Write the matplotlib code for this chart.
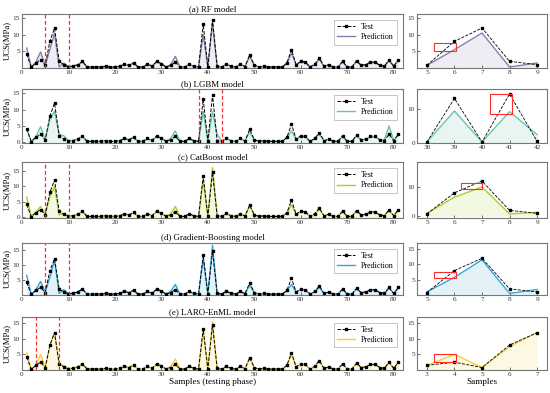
import matplotlib
matplotlib.use("Agg")
import matplotlib.pyplot as plt
from matplotlib.patches import Rectangle
import numpy as np

samples = list(range(1, 82))
test = [4.2,0.2,1.5,2.5,0.8,8.0,12.0,2.0,1.0,0.3,
        0.5,1.0,2.0,0.3,0.3,0.3,0.3,0.5,0.3,0.3,
        0.5,1.2,0.8,1.6,0.3,0.3,1.2,0.6,2.0,1.3,
        0.3,0.8,1.8,0.3,0.3,1.2,0.5,0.3,13.2,0.3,
        14.5,0.5,0.3,1.3,0.5,0.3,1.2,0.4,4.0,0.8,
        0.3,0.5,0.3,0.3,0.3,0.3,1.5,5.5,1.0,2.0,
        1.8,0.3,1.2,3.0,0.5,1.0,0.3,0.3,2.0,0.3,
        0.3,2.2,0.8,1.0,1.8,1.8,0.8,0.5,2.5,0.5,2.5]

rf = [6.0,0.3,1.8,4.8,0.8,5.5,10.5,0.3,1.5,0.5,
      0.6,1.0,1.8,0.3,0.3,0.3,0.3,0.5,0.3,0.3,
      0.5,1.0,0.8,1.4,0.3,0.3,1.0,0.6,1.8,1.3,
      0.3,1.0,3.5,0.3,0.3,1.0,0.5,0.3,10.0,0.3,
      13.5,0.5,0.3,1.1,0.5,0.3,1.0,0.5,3.5,0.8,
      0.3,0.5,0.3,0.3,0.3,0.3,1.3,4.5,1.0,1.8,
      1.6,0.3,1.0,2.6,0.5,0.9,0.3,0.3,1.8,0.3,
      0.3,2.0,0.8,1.0,1.6,1.6,0.8,0.6,2.2,0.6,2.3]

lgbm = [4.0,0.3,1.8,4.8,0.8,7.0,9.5,2.5,2.0,0.5,
        0.6,1.0,1.8,0.3,0.3,0.3,0.3,0.5,0.3,0.3,
        0.5,1.0,0.8,1.4,0.3,0.3,1.0,0.6,1.8,1.3,
        0.3,1.2,3.5,0.3,0.3,1.0,0.5,0.3,9.5,0.3,
        9.3,2.5,0.3,1.1,0.5,0.3,1.0,0.5,3.0,0.8,
        0.3,0.5,0.3,0.3,0.3,0.3,1.3,3.5,1.0,1.8,
        1.6,0.3,1.0,2.5,0.5,0.9,0.3,0.3,1.8,0.3,
        0.3,2.0,0.8,1.0,1.6,1.6,0.8,0.8,5.0,0.6,2.3]

cat = [6.5,0.3,1.8,3.5,1.0,6.5,10.0,0.8,1.3,0.5,
       0.6,1.0,1.8,0.3,0.3,0.3,0.3,0.7,0.4,0.3,
       0.5,1.0,0.8,1.4,0.3,0.3,1.0,0.6,1.8,1.3,
       0.3,1.2,3.5,0.3,0.3,1.0,0.5,0.3,12.0,0.3,
       16.0,0.8,0.3,1.1,0.5,0.3,1.0,0.5,3.5,0.8,
       0.3,0.5,0.3,0.3,0.3,0.3,1.3,4.0,1.0,1.8,
       1.6,0.3,1.0,2.5,0.5,0.9,0.3,0.3,1.8,0.3,
       0.3,2.0,0.8,1.0,1.6,1.6,0.8,0.6,2.2,0.6,2.3]

gb = [6.5,0.3,1.8,4.5,1.0,5.8,11.5,0.5,1.8,0.5,
      0.6,1.0,1.8,0.3,0.3,0.3,0.3,0.5,0.3,0.3,
      0.5,1.2,0.8,1.4,0.3,0.3,1.0,0.6,1.8,1.3,
      0.3,1.2,3.5,0.3,0.3,1.0,0.5,0.3,12.0,0.3,
      16.5,0.5,0.3,1.1,0.5,0.3,1.0,0.5,3.2,0.8,
      0.3,0.5,0.3,0.3,0.3,0.3,1.3,3.5,1.0,1.8,
      1.6,0.3,1.0,2.5,0.5,0.9,0.3,0.3,1.8,0.3,
      0.3,2.0,0.8,1.0,1.6,1.6,0.8,0.6,2.2,0.6,2.3]

laro = [5.5,0.3,1.5,5.0,0.8,7.5,12.0,1.8,1.5,0.5,
        0.6,1.0,1.8,0.3,0.3,0.3,0.3,0.5,0.3,0.3,
        0.5,1.0,0.8,1.4,0.3,0.3,1.0,0.6,1.8,1.3,
        0.3,1.2,3.5,0.3,0.3,1.0,0.5,0.3,12.5,0.3,
        15.5,0.5,0.3,1.1,0.5,0.3,1.0,0.5,3.5,0.8,
        0.3,0.5,0.3,0.3,0.3,0.3,1.3,5.0,1.0,1.8,
        1.6,0.3,1.0,2.8,0.5,0.9,0.3,0.3,1.8,0.3,
        0.3,2.0,0.8,1.0,1.6,1.6,0.8,0.6,2.4,0.6,2.4]

titles = ["(a) RF model", "(b) LGBM model", "(c) CatBoost model",
          "(d) Gradient-Boosting model", "(e) LARO-EnML model"]
preds = [rf, lgbm, cat, gb, laro]
colors = ["#8a7daa", "#6cc3ad", "#a8d02c", "#36a6d8", "#f2cf3c"]
fills = ["#efedf4", "#e8f5f2", "#f3f8e3", "#e4f2f8", "#fdf8e4"]
dash_lines = [(5, 10), (38, 43), (5, 10), (5, 10), (3, 8)]
zoom_ranges = [(5, 9), (38, 42), (5, 9), (5, 9), (3, 7)]
red_boxes = [(5.25, 5.2, 0.8, 2.3), (40.3, 8.5, 0.8, 6.0), (6.25, 9.2, 0.75, 2.3),
             (5.25, 5.5, 0.8, 2.0), (3.25, 2.6, 0.8, 2.4)]
left_yticks = [[5, 10, 15], [0, 5, 10, 15], [0, 5, 10, 15], [5, 10, 15], [5, 10, 15]]
left_ylims = [(0, 16.2), (-0.2, 16.3), (-0.2, 17.8), (0, 17.2), (0, 17.0)]
right_yticks = [[5, 10, 15], [0, 10], [0, 10], [5, 10, 15], [5, 10, 15]]
right_ylims = [(0, 16.2), (0, 16.0), (-0.6, 18.5), (0, 17.0), (0, 17.0)]

plt.rcParams['font.family'] = ['Liberation Serif', 'DejaVu Serif']
fig = plt.figure(figsize=(5.5, 3.93), dpi=100)
W, H = 550.0, 393.0
tops = [14, 89, 162, 243, 317]
bots = [68, 143, 218, 295, 370]
spine_c = "#777777"

def style(ax):
    for s in ax.spines.values():
        s.set_color(spine_c)
        s.set_linewidth(0.8)
    ax.tick_params(direction='in', labelsize=5.2, length=2, width=0.5, pad=1.5,
                   colors='#333333')

x = np.array(samples)
t = np.array(test)
for i in range(5):
    p = np.array(preds[i])
    b = 1 - bots[i] / H
    h = (bots[i] - tops[i]) / H
    axl = fig.add_axes([22 / W, b, (403 - 22) / W, h])
    axr = fig.add_axes([417 / W, b, (547 - 417) / W, h])
    # left panel
    axl.fill_between(x, p, 0, color=fills[i], lw=0, zorder=1)
    axl.plot(x, t, 'k--', marker='s', ms=1.6, lw=0.7, label='Test', zorder=3)
    axl.plot(x, p, '-', color=colors[i], lw=1.0, label='Prediction', zorder=2)
    for xv in dash_lines[i]:
        axl.axvline(xv + 0.05, color='#ff2a2a', ls=(0, (3, 2)), lw=0.9, zorder=4)
    axl.set_xlim(0, 82)
    axl.set_ylim(*left_ylims[i])
    axl.set_xticks(range(0, 81, 10))
    axl.set_yticks(left_yticks[i])
    axl.set_ylabel('UCS(MPa)', fontsize=6.2, labelpad=1)
    axl.set_title(titles[i], fontsize=6.4, pad=2)
    leg = axl.legend(loc='upper right', fontsize=5.8, frameon=True, fancybox=False,
                     handlelength=2.2, borderpad=0.4, labelspacing=0.3,
                     bbox_to_anchor=(0.995, 0.97))
    leg.get_frame().set_edgecolor('#999999')
    leg.get_frame().set_linewidth(0.5)
    style(axl)
    # right panel
    z0, z1 = zoom_ranges[i]
    zx = x[(x >= z0) & (x <= z1)]
    zt = t[(x >= z0) & (x <= z1)]
    zp = p[(x >= z0) & (x <= z1)]
    axr.fill_between(zx, zp, 0, color=fills[i], lw=0, zorder=1)
    axr.plot(zx, zt, 'k--', marker='s', ms=2.0, lw=0.6, zorder=3)
    axr.plot(zx, zp, '-', color=colors[i], lw=1.0, zorder=2)
    rx, ry, rw, rh = red_boxes[i]
    axr.add_patch(Rectangle((rx, ry), rw, rh, fill=False, ec='#ff2a2a', lw=0.8, zorder=5))
    axr.set_xlim(z0 - 0.36, z1 + 0.36)
    axr.set_ylim(*right_ylims[i])
    axr.set_xticks(range(z0, z1 + 1))
    axr.set_yticks(right_yticks[i])
    style(axr)
    if i == 4:
        axl.set_xlabel('Samples (testing phase)', fontsize=6.6, labelpad=1)
        axr.set_xlabel('Samples', fontsize=6.6, labelpad=1)

fig.savefig('out.png', dpi=100)
